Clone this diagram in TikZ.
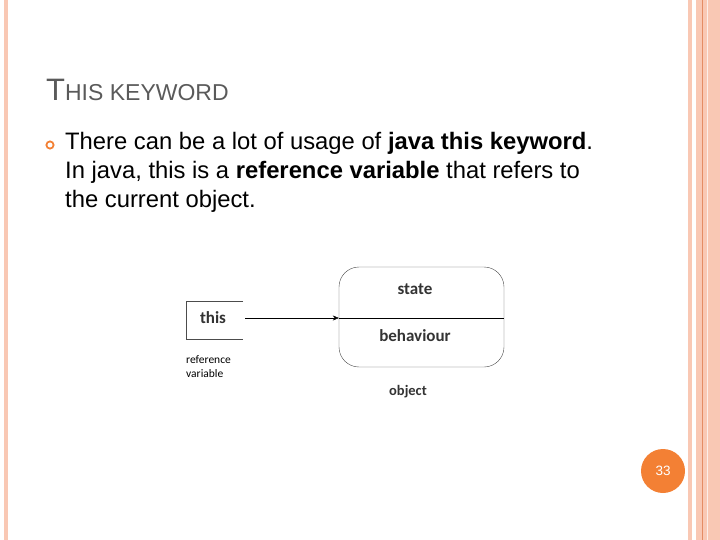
\documentclass[tikz,border=0pt]{standalone}
\usepackage{fontspec}
\setmainfont{Liberation Sans}
\newfontfamily\diagfont{Carlito}
\usetikzlibrary{arrows.meta, positioning}
\definecolor{salmon}{RGB}{249,200,180}
\definecolor{salmondark}{RGB}{228,140,100}
\definecolor{accent}{RGB}{243,128,52}
\definecolor{titlegray}{RGB}{90,90,90}
\tikzset{
    label/.style={font=\diagfont\bfseries\fontsize{17}{20}\selectfont, text=black!80},
    small/.style={font=\diagfont\fontsize{11.5}{14}\selectfont, align=left, anchor=north west, inner sep=0pt},
}
\begin{document}
\begin{tikzpicture}[x=1pt, y=-1pt, >=Stealth]
    \useasboundingbox (0,0) rectangle (720,540);
    % Borders
    \fill[salmon] (4,0) rectangle (8,540);
    \fill[salmon] (688,0) rectangle (692,540);
    \fill[salmon] (696,0) rectangle (720,540);
    \draw[salmondark, line width=0.8pt] (702,0) -- (702,540);
    \draw[white!70!salmon, line width=0.6pt] (707,0) -- (707,540);

    % Title
    \node[anchor=base west, inner sep=0pt, text=titlegray] (title) at (46,101)
        {\fontsize{31}{34}\selectfont T\fontsize{23}{26}\selectfont HIS KEYWORD};

    % Bullet
    \draw[accent, line width=1.8pt] (50,145) circle (3.6pt);
    \node[anchor=north west, inner sep=0pt, align=left, font=\fontsize{23.8}{29}\selectfont] (body) at (65,132)
        {There can be a lot of usage of \textbf{java this keyword}.\\
         In java, this is a \textbf{reference variable} that refers to\\
         the current object.};

    % Diagram
    \draw[black!70] (243,301) -- (186,301) -- (186,339) -- (243,339);
    \node[label] (this) at (213,318) {this};
    \node[draw=black!70, rounded corners=20pt, minimum width=165pt, minimum height=100pt] (obj) at (421.5,317) {};
    \coordinate (objmid) at (obj.west |- this);
    \draw (obj.west |- this) -- (obj.east |- this);
    \node[label] (state) at (415,289) {state};
    \node[label] (behaviour) at (415,336) {behaviour};
    \node[label, font=\diagfont\bfseries\fontsize{14.5}{17}\selectfont] (object) at (408,392) {object};
    \node[small] (refvar) at (186,355) {reference\\variable};
    \draw[-{Stealth[length=6pt,width=5pt]}] (245,318) coordinate (start) -- (objmid);

    % Page number
    \node[circle, fill=accent, minimum size=44pt, inner sep=0pt, text=white,
          font=\fontsize{13.5}{15}\selectfont] (page) at (663,471) {33};
\end{tikzpicture}
\end{document}
